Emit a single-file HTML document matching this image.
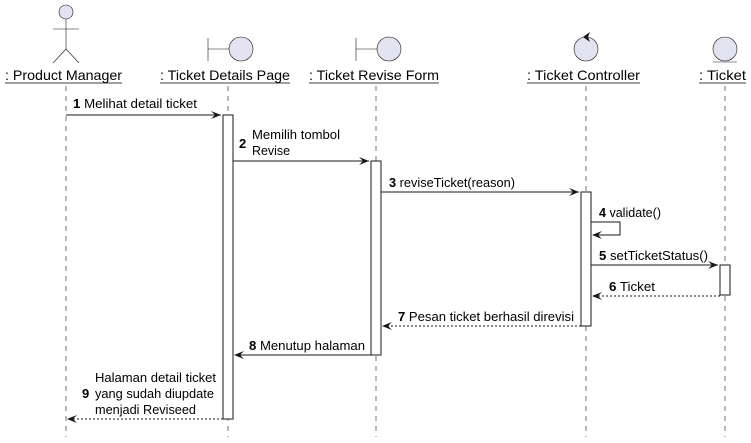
<!DOCTYPE html>
<html><head><meta charset="utf-8"><style>
html,body{margin:0;padding:0;background:#fff;width:751px;height:443px;overflow:hidden}
svg{display:block;font-family:"Liberation Sans",sans-serif}
</style></head><body>
<svg width="751" height="443" viewBox="0 0 751 443" xmlns="http://www.w3.org/2000/svg">
<g stroke="#181818" stroke-width="0.6" stroke-dasharray="5,5" fill="none">
<line x1="66" y1="86" x2="66" y2="437"/>
<line x1="228" y1="86" x2="228" y2="437"/>
<line x1="376" y1="86" x2="376" y2="437"/>
<line x1="586" y1="86" x2="586" y2="437"/>
<line x1="725" y1="86" x2="725" y2="437"/>
</g>
<g stroke="#181818" stroke-width="0.6" fill="#E2E2F0">
<circle cx="66" cy="12" r="7"/>
<line x1="66" y1="19" x2="66" y2="49"/>
<line x1="53" y1="29" x2="79" y2="29"/>
<line x1="66" y1="49" x2="53" y2="63"/>
<line x1="66" y1="49" x2="79" y2="63"/>
<line x1="208" y1="38" x2="208" y2="61"/>
<line x1="208" y1="49" x2="229" y2="49"/>
<circle cx="241" cy="49" r="12"/>
<line x1="356" y1="38" x2="356" y2="61"/>
<line x1="356" y1="49" x2="377" y2="49"/>
<circle cx="389" cy="49" r="12"/>
<circle cx="586" cy="49" r="12"/>
<circle cx="725" cy="49" r="12"/>
<line x1="713" y1="62" x2="737" y2="62"/>
</g>
<polygon points="583,37 590,32 588,37 590,42" fill="#181818"/>
<g font-size="14" fill="#000" lengthAdjust="spacingAndGlyphs">
<text x="5" y="80" textLength="117" lengthAdjust="spacingAndGlyphs">: Product Manager</text>
<text x="160" y="80" textLength="130" lengthAdjust="spacingAndGlyphs">: Ticket Details Page</text>
<text x="309" y="80" textLength="130" lengthAdjust="spacingAndGlyphs">: Ticket Revise Form</text>
<text x="527" y="80" textLength="113" lengthAdjust="spacingAndGlyphs">: Ticket Controller</text>
<text x="699" y="80" textLength="47" lengthAdjust="spacingAndGlyphs">: Ticket</text>
</g>
<g stroke="#000" stroke-width="0.8">
<line x1="5" y1="83" x2="122" y2="83"/>
<line x1="160" y1="83" x2="290" y2="83"/>
<line x1="309" y1="83" x2="439" y2="83"/>
<line x1="527" y1="83" x2="640" y2="83"/>
<line x1="699" y1="83" x2="746" y2="83"/>
</g>
<g fill="#fff" stroke="#181818" stroke-width="1">
<rect x="223" y="115" width="10" height="304"/>
<rect x="371" y="161" width="10" height="194"/>
<rect x="581" y="192" width="10" height="134"/>
<rect x="720" y="265" width="10" height="30"/>
</g>
<g stroke="#181818" stroke-width="1" fill="none">
<line x1="66" y1="115" x2="221" y2="115"/>
<line x1="233" y1="161" x2="369" y2="161"/>
<line x1="381" y1="192" x2="579" y2="192"/>
<polyline points="591,222 620,222 620,235 593,235"/>
<line x1="591" y1="265" x2="718" y2="265"/>
<line x1="720" y1="296" x2="593" y2="296" stroke-dasharray="2,2"/>
<line x1="581" y1="326" x2="383" y2="326" stroke-dasharray="2,2"/>
<line x1="371" y1="355" x2="235" y2="355"/>
<line x1="223" y1="419" x2="68" y2="419" stroke-dasharray="2,2"/>
</g>
<g fill="#181818">
<polygon points="221,115 211,111 215,115 211,119"/>
<polygon points="369,161 359,157 363,161 359,165"/>
<polygon points="579,192 569,188 573,192 569,196"/>
<polygon points="592,235 602,231 598,235 602,239"/>
<polygon points="718,265 708,261 712,265 708,269"/>
<polygon points="592,296 602,292 598,296 602,300"/>
<polygon points="382,326 392,322 388,326 392,330"/>
<polygon points="234,355 244,351 240,355 244,359"/>
<polygon points="67,419 77,415 73,419 77,423"/>
</g>
<g font-size="13" fill="#000">
<text x="73" y="108" textLength="124" lengthAdjust="spacingAndGlyphs"><tspan font-weight="bold">1</tspan> Melihat detail ticket</text>
<text x="239" y="148" font-weight="bold">2</text>
<text x="252" y="139" textLength="88" lengthAdjust="spacingAndGlyphs">Memilih tombol</text>
<text x="252" y="155" textLength="38" lengthAdjust="spacingAndGlyphs">Revise</text>
<text x="389" y="187" textLength="126" lengthAdjust="spacingAndGlyphs"><tspan font-weight="bold">3</tspan> reviseTicket(reason)</text>
<text x="599" y="217" textLength="62" lengthAdjust="spacingAndGlyphs"><tspan font-weight="bold">4</tspan> validate()</text>
<text x="599" y="260" textLength="109" lengthAdjust="spacingAndGlyphs"><tspan font-weight="bold">5</tspan> setTicketStatus()</text>
<text x="609" y="291" textLength="46" lengthAdjust="spacingAndGlyphs"><tspan font-weight="bold">6</tspan> Ticket</text>
<text x="398" y="321" textLength="176" lengthAdjust="spacingAndGlyphs"><tspan font-weight="bold">7</tspan> Pesan ticket berhasil direvisi</text>
<text x="249" y="350" textLength="116" lengthAdjust="spacingAndGlyphs"><tspan font-weight="bold">8</tspan> Menutup halaman</text>
<text x="95" y="382" textLength="121" lengthAdjust="spacingAndGlyphs">Halaman detail ticket</text>
<text x="82" y="398" font-weight="bold">9</text>
<text x="95" y="398" textLength="119" lengthAdjust="spacingAndGlyphs">yang sudah diupdate</text>
<text x="95" y="414" textLength="101" lengthAdjust="spacingAndGlyphs">menjadi Reviseed</text>
</g>
</svg>
</body></html>
